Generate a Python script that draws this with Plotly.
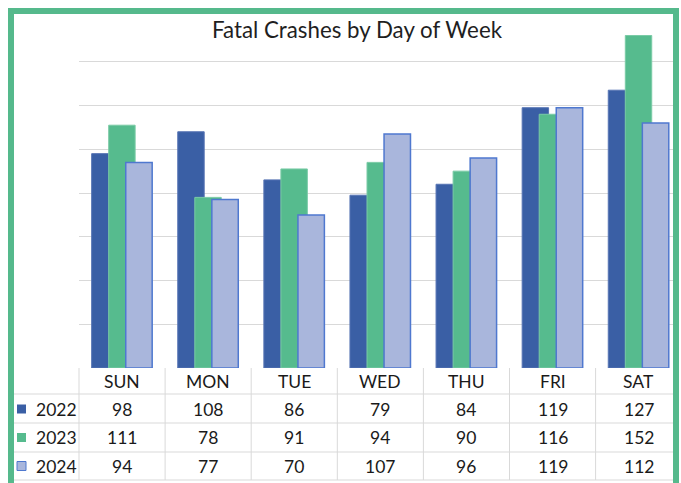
import plotly.graph_objects as go

# ---- data ----
days = ["SUN", "MON", "TUE", "WED", "THU", "FRI", "SAT"]
years = ["2022", "2023", "2024"]
v2022 = [98, 108, 86, 79, 84, 119, 127]
v2023 = [111, 78, 91, 94, 90, 116, 152]
v2024 = [94, 77, 70, 107, 96, 119, 112]
series = [v2022, v2023, v2024]

title = "Fatal Crashes by Day of Week"

# ---- styling / layout ----
W, H = 681, 483
ML, MR, MT, MB = 79, 6, 18, 115
PW = W - ML - MR
PH = H - MT - MB
CAT_PX = 86.1
fills = ["#3A5FA5", "#56BB8E", "#A9B6DC"]
edges = ["#5774B4", "#7ACBA6", "#4F78CF"]
edge_w = [1, 1, 1.5]
offsets = [-0.353, -0.155, 0.043]
bar_w = 0.307
FONT = "Lato"
GRID = "#D9D9D9"
BORDER = "#55B98C"


def px2x(px):
    return (px - ML) / PW


def py2y(py):
    return (H - MB - py) / PH


fig = go.Figure()
for i, (yr, vals) in enumerate(zip(years, series)):
    fig.add_trace(go.Bar(
        x=list(range(len(days))), y=vals, name=yr,
        width=bar_w, offset=offsets[i],
        marker=dict(color=fills[i], line=dict(color=edges[i], width=edge_w[i])),
        showlegend=False, hoverinfo="x+y+name",
    ))

shapes = []
annotations = []

# Title
annotations.append(dict(
    text=title, xref="paper", yref="paper", x=px2x(357), y=py2y(29),
    xanchor="center", yanchor="middle", showarrow=False,
    font=dict(family=FONT, size=22.3, color="#1F1F1F"),
))

# Data table geometry (pixels)
row_lines = [394, 423, 452, 480]
header_c = 381
row_c = [409, 437.5, 466]
table_top = 368
for yl in row_lines:
    shapes.append(dict(type="line", xref="paper", yref="paper",
                       x0=px2x(14), x1=px2x(676), y0=py2y(yl), y1=py2y(yl),
                       line=dict(color=GRID, width=1), layer="below"))
for k in range(len(days) + 1):
    xp = ML + CAT_PX * k
    if xp > W:
        continue
    shapes.append(dict(type="line", xref="paper", yref="paper",
                       x0=px2x(xp), x1=px2x(xp), y0=py2y(table_top), y1=py2y(row_lines[-1]),
                       line=dict(color=GRID, width=1), layer="below"))

# header labels
for i, d in enumerate(days):
    annotations.append(dict(text=d, xref="x", yref="paper", x=i, y=py2y(header_c),
                            xanchor="center", yanchor="middle", showarrow=False,
                            font=dict(family=FONT, size=17.5, color="#1A1A1A")))
# rows
for r, (yr, vals) in enumerate(zip(years, series)):
    yc = row_c[r]
    shapes.append(dict(type="rect", xref="paper", yref="paper",
                       x0=px2x(17), x1=px2x(26), y0=py2y(yc - 4.5), y1=py2y(yc + 4.5),
                       fillcolor=fills[r], line=dict(color=edges[r], width=1 if r == 2 else 0)))
    annotations.append(dict(text=yr, xref="paper", yref="paper", x=px2x(34), y=py2y(yc),
                            xanchor="left", yanchor="middle", showarrow=False,
                            font=dict(family=FONT, size=17.5, color="#1A1A1A")))
    for i, v in enumerate(vals):
        annotations.append(dict(text=str(v), xref="x", yref="paper", x=i, y=py2y(yc),
                                xanchor="center", yanchor="middle", showarrow=False,
                                font=dict(family=FONT, size=17.5, color="#1A1A1A")))

# outer green frame
shapes.append(dict(type="rect", xref="paper", yref="paper",
                   x0=px2x(11), x1=px2x(676), y0=py2y(11), y1=py2y(500),
                   line=dict(color=BORDER, width=6), fillcolor="rgba(0,0,0,0)", layer="above"))

fig.update_layout(
    width=W, height=H,
    margin=dict(l=ML, r=MR, t=MT, b=MB, pad=0),
    paper_bgcolor="white", plot_bgcolor="white",
    barmode="overlay",
    xaxis=dict(range=[-0.5, -0.5 + PW / CAT_PX], showticklabels=False, showgrid=False,
               zeroline=False, showline=False, ticks="", fixedrange=True),
    yaxis=dict(range=[0, 160], tickvals=[0, 20, 40, 60, 80, 100, 120, 140],
               showticklabels=False, showgrid=True, gridcolor=GRID, gridwidth=1,
               zeroline=False, showline=False, ticks="", fixedrange=True),
    shapes=shapes, annotations=annotations,
    font=dict(family=FONT),
)

fig.write_html(
    "out.html",
    config={"displayModeBar": False},
    post_script="document.body.style.margin='0';document.body.style.padding='0';"
                "document.body.style.overflow='hidden';",
)
